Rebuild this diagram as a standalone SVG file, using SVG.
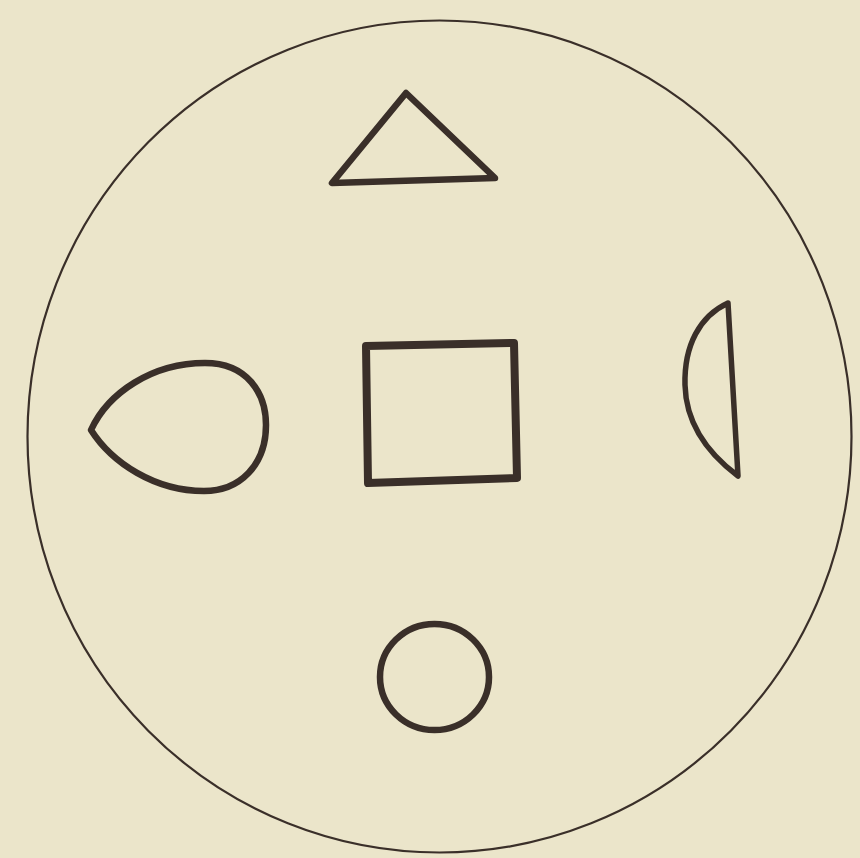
<svg xmlns="http://www.w3.org/2000/svg" width="860" height="858" viewBox="0 0 860 858">
<style>
.s{fill:none;stroke:#3a2f29;stroke-linejoin:round;stroke-linecap:round}
</style>
<rect width="860" height="858" fill="#ebe5ca"/>
<g id="outer"><ellipse class="s" cx="439.5" cy="436.5" rx="412" ry="416" stroke-width="2.2"/></g>
<g id="triangle"><path class="s" stroke-width="6.5" d="M406,93 L332,183 L495,178 Z"/></g>
<g id="square"><path class="s" stroke-width="8" d="M366,346 L514,343 L517,478 L368,483 Z"/></g>
<g id="teardrop"><path class="s" stroke-width="6.5" d="M91,430 C108,393 152,363 205,363 C247,363 266,393 266,425 C266,465 240,491 204,491 C155,491 112,463 91,430 Z"/></g>
<g id="halfmoon"><path class="s" stroke-width="5.5" d="M728,303 C700,316 684,345 685,385 C686,425 710,455 738,476 L728,303 Z"/></g>
<g id="circle"><ellipse class="s" cx="434.5" cy="677" rx="54.5" ry="53" stroke-width="6.5"/></g>
</svg>
